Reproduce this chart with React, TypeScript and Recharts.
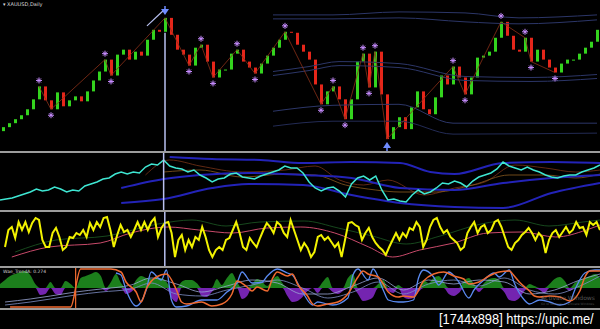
import React from "react";
import { ComposedChart, Line, Bar, Area, XAxis, YAxis, ReferenceLine } from "recharts";

// main panel: daily closes (candle body = previous close -> close)
const closes = [
  24, 28, 32, 36, 42, 52, 65, 51, 42, 59,
  45, 51, 55, 50, 60, 71, 80, 92, 76, 97,
  102, 92, 100, 96, 112, 122, 120, 134, 117, 102,
  97, 86, 104, 107, 90, 74, 82, 82, 98, 102,
  90, 84, 78, 88, 96, 104, 112, 120, 119, 107,
  100, 92, 67, 47, 60, 65, 52, 32, 52, 90,
  98, 64, 100, 57, 12, 24, 34, 22, 44, 60,
  42, 37, 54, 76, 67, 85, 74, 57, 74, 94,
  96, 100, 114, 130, 116, 102, 100, 114, 90, 102,
  92, 84, 79, 88, 92, 92, 98, 104, 110, 122,
];
const firstOpen = 20;
const pivotHighs = [6, 17, 27, 33, 39, 47, 55, 60, 62, 75, 83, 87];
const pivotLows = [8, 18, 31, 35, 42, 53, 57, 61, 64, 77, 88, 92];
const arrowPivots = [27, 64];

// envelope bands on the main panel [bar, value]
const upperA = [[45, 137], [55, 137], [66, 140], [77, 139], [86, 134], [99, 137]];
const upperB = [[45, 133], [55, 133], [66, 134], [77, 130], [86, 128], [99, 132]];
const midA = [[45, 80], [51, 85], [56, 90], [66, 88], [77, 75], [88, 74], [99, 77]];
const midB = [[45, 76], [51, 81], [56, 86], [66, 84], [77, 71], [88, 70], [99, 73]];
const lowA = [[45, 40], [55, 46], [66, 47], [75, 28], [99, 28]];
const lowB = [[45, 25], [55, 30], [66, 30], [75, 17], [99, 18]];

// panel 2
const cyan = [
  10, 11, 12, 14, 16, 18, 21, 19, 20, 23,
  21, 18, 20, 19, 24, 26, 28, 31, 32, 36,
  38, 36, 38, 37, 43, 46, 45, 50, 44, 42,
  41, 38, 40, 35, 32, 28, 31, 32, 36, 37,
  33, 32, 31, 34, 36, 38, 40, 44, 42, 42,
  37, 28, 22, 19, 22, 23, 19, 13, 26, 32,
  34, 30, 34, 20, 10, 11, 9, 8, 15, 20,
  16, 18, 22, 27, 26, 29, 27, 23, 29, 33,
  35, 37, 41, 48, 44, 42, 40, 43, 40, 38,
  35, 33, 32, 34, 35, 35, 38, 40, 42, 45,
];
const p2Upper = [[28, 53], [35, 51], [43, 50], [50, 47], [58, 48], [66, 47], [71, 38], [75, 36], [83, 47], [91, 48], [99, 47]];
const p2Mid = [[20, 22], [27, 31], [33, 35], [41, 37], [50, 35], [58, 32], [66, 22], [75, 20], [83, 27], [91, 32], [99, 35]];
const p2Lower = [[20, 7], [27, 11], [35, 22], [41, 26], [50, 25], [58, 15], [66, 7], [75, 3], [83, 2], [91, 17], [99, 27]];
const p2BrownA = [[24, 35], [28, 50], [33, 44], [40, 38], [47, 40], [52, 44], [56, 30], [60, 25], [64, 30], [70, 15], [75, 22], [80, 28], [85, 45], [90, 42], [95, 38], [99, 40]];
const p2BrownB = [[27, 38], [33, 40], [40, 33], [47, 36], [52, 35], [57, 25], [62, 20], [66, 18], [72, 18], [78, 25], [84, 35], [90, 35], [95, 32], [99, 36]];

// panel 3
const yellow = [
  19, 36, 39, 28, 44, 36, 44, 34, 43, 48,
  46, 26, 19, 19, 33, 38, 29, 16, 19, 29,
  28, 33, 31, 36, 29, 43, 36, 44, 39, 48,
  49, 36, 19, 31, 41, 34, 36, 29, 36, 44,
  36, 44, 36, 44, 48, 29, 38, 43, 44, 33,
  9, 26, 31, 16, 26, 19, 29, 26, 39, 29,
  16, 9, 16, 19, 16, 26, 28, 36, 44, 33,
  19, 16, 28, 23, 19, 28, 36, 43, 39, 33,
  44, 41, 33, 29, 46, 36, 26, 16, 23,
  18, 9, 14, 29, 31, 26, 29, 24, 19, 23,
  9, 26, 43, 44, 41, 39, 26, 33, 38, 29,
  23, 19, 16, 11, 19, 26, 33, 26, 33, 29,
  38, 36, 44, 39, 19, 26, 39, 46, 48, 39,
  33, 36, 29, 26, 23, 16, 19, 33, 39, 44,
  33, 39, 41, 33, 36, 44, 46, 39, 29, 19,
  16, 23, 26, 31, 34, 38, 33, 26, 33, 29,
  13, 26, 33, 36, 29, 34, 39, 33, 36, 44,
  38, 39, 31, 44, 41, 44, 36,
];
const p3Pink = [[2, 9], [13, 19], [28, 23], [37, 33], [48, 39], [57, 36], [67, 33], [77, 38], [87, 39], [97, 33], [107, 19], [114, 9], [122, 16], [132, 23], [142, 33], [152, 34], [162, 29], [171, 36], [175, 41]];
const p3Green = [[3, 14], [15, 26], [30, 30], [45, 42], [55, 46], [65, 40], [75, 44], [88, 45], [98, 38], [108, 30], [118, 22], [128, 30], [140, 42], [150, 46], [160, 40], [170, 44], [175, 46]];

// panel 4
const hist = [
  4, 8, 12, 14, 16, 17, 13, 4, -7, -6,
  6, -6, -7, 7, 4, 0, 10, 12, 14, 16,
  12, -3, 6, 14, 5, -6, -4, 8, 12, 10,
  9, 10, 10, 6, -10, -14, 6, 8, 8, 5,
  -8, -9, -4, 9, 3, 10, 15, 6, -11, -8,
  4, 9, 6, 2, 8, 12, 5, -8, -14, -13,
  -9, -3, 0, -5, 6, 11, -4, -6, -3, 10,
  14, -6, -13, -12, -9, 4, 8, -3, -5, 3,
  -9, -11, -10, -4, 8, 5, 10, 12, 6, -6,
  -8, -5, 7, 10, 4, -4, 5, 9, 10, 8,
  -4, -12, -13, -10, -3, 4, 2, -2, -5, 4,
  9, 11, 7, -3, 5, 8, 10, 12, 14, 10,
];
const p4Orange = [[2, -19], [14, -19], [16, 19], [22, 19], [24, 16], [25, 6], [27, -4], [28, -14], [29, -1], [31, 11], [33, 14], [35, -2], [36, -14], [37, -16], [40, -14], [42, -18], [44, -16], [46, -6], [47, 7], [49, 1], [50, -3], [51, 1], [53, -3], [54, 9], [55, 16], [57, 12], [58, 14], [59, 4], [61, -8], [62, -16], [63, -18], [65, -16], [67, -14], [69, -6], [71, 11], [72, 17], [73, 14], [75, 11], [76, 4], [77, -4], [79, -9], [80, -8], [82, -9], [84, 7], [86, 14], [88, 16], [90, 12], [92, 9], [93, 4], [95, 6], [97, 12], [99, 16], [101, 17], [102, 12], [103, 6], [105, -3], [106, -8], [107, -9], [109, -8], [111, -9], [113, -13], [115, -3], [116, 11], [117, 17], [119, 17]];
const p4Blue = [[23, 15], [24, 13], [25, -2], [27, -18], [29, -2], [30, 16], [32, 8], [33, 18], [34, -12], [35, -19], [37, -18], [40, -12], [43, -12], [45, -4], [47, 5], [48, 16], [50, 5], [52, 6], [53, 12], [55, 19], [57, 15], [58, 13], [60, -4], [62, -17], [63, -14], [66, -17], [69, -10], [70, 13], [71, 19], [73, 8], [74, 19], [76, -2], [77, -12], [79, -14], [80, -14], [82, -12], [83, 10], [84, 18], [86, 11], [87, 3], [89, 16], [91, 6], [93, -10], [94, -2], [96, 8], [98, 15], [99, 11], [101, 18], [102, 5], [104, -12], [105, -16], [107, -12], [109, -14], [111, -17], [113, -14], [114, -2], [116, 15], [118, 18], [119, 18]];
const p4ThinA = [[1, -17], [6, -14], [10, -11], [15, -7], [20, -4], [26, -1], [30, 5], [35, -6], [40, -8], [45, -2], [50, 3], [55, 8], [60, 0], [65, -10], [70, -4], [75, 6], [80, -6], [85, 4], [90, 8], [95, 2], [100, 10], [105, -2], [110, -6], [115, 2], [119, 12]];
const p4ThinB = [[1, -14], [6, -11], [10, -8], [15, -4], [20, -1], [26, 3], [30, 10], [35, 4], [40, -4], [45, 2], [50, 8], [55, 5], [60, -6], [65, -6], [70, 2], [75, 10], [80, -2], [85, 8], [90, 4], [95, 8], [100, 6], [105, -6], [110, -2], [115, 8], [119, 14]];

const sparse = (n: number, knots: number[][]) => {
  const a: (number | null)[] = Array(n).fill(null);
  knots.forEach(([i, v]) => (a[i] = v));
  return a;
};

const N = closes.length;
const bands = { uA: sparse(N, upperA), uB: sparse(N, upperB), mA: sparse(N, midA), mB: sparse(N, midB), lA: sparse(N, lowA), lB: sparse(N, lowB) };
const mainRows = closes.map((c, i) => {
  const o = i === 0 ? firstOpen : closes[i - 1];
  const isHi = pivotHighs.includes(i);
  const isLo = pivotLows.includes(i);
  return {
    i,
    body: [Math.min(o, c), Math.max(o, c)],
    up: c >= o,
    zig: isHi || isLo ? c : null,
    hiMark: isHi ? c + 6 : null,
    loMark: isLo ? c - 6 : null,
    uA: bands.uA[i], uB: bands.uB[i], mA: bands.mA[i], mB: bands.mB[i], lA: bands.lA[i], lB: bands.lB[i],
  };
});

const p2 = { u: sparse(N, p2Upper), m: sparse(N, p2Mid), l: sparse(N, p2Lower), a: sparse(N, p2BrownA), b: sparse(N, p2BrownB) };
const p2Rows = cyan.map((v, i) => ({ i, v, u: p2.u[i], m: p2.m[i], l: p2.l[i], a: p2.a[i], b: p2.b[i] }));

const pink = sparse(yellow.length, p3Pink);
const grn = sparse(yellow.length, p3Green);
const p3Rows = yellow.map((v, i) => ({ i, v, pink: pink[i], grn: grn[i] }));

const H = hist.length;
const orng = sparse(H, p4Orange);
const blu = sparse(H, p4Blue);
const thA = sparse(H, p4ThinA);
const thB = sparse(H, p4ThinB);
const p4Rows = hist.map((v, i) => ({ i, pos: v > 0 ? v : 0, neg: v < 0 ? v : 0, or: orng[i], bl: blu[i], tA: thA[i], tB: thB[i] }));

const M = { top: 0, right: 0, bottom: 0, left: 0 };

const Candle = (props: any) => {
  const { x, y, width, height, payload } = props;
  if (x == null || y == null) return <g />;
  const h = Math.max(1, Math.abs(height));
  const top = height < 0 ? y + height : y;
  return <rect x={x} y={top} width={width} height={h} fill={payload.up ? "#34d41e" : "#e5261a"} />;
};

const PivotDot = (props: any) => {
  const { cx, cy, value, index, payload } = props;
  if (value == null || cy == null || cx == null) return <g key={`p${index}`} />;
  if (arrowPivots.includes(payload.i)) {
    const down = payload.hiMark != null;
    const d = down ? 1 : -1;
    return (
      <g key={`p${index}`}>
        <path d={`M${cx - 4},${cy - 3 * d} L${cx + 4},${cy - 3 * d} L${cx},${cy + 3 * d} Z`} fill="#6f8cff" />
        <line x1={cx} x2={cx} y1={cy - 6 * d} y2={cy - 2 * d} stroke="#6f8cff" strokeWidth={1.5} />
      </g>
    );
  }
  return (
    <g key={`p${index}`} stroke="#c78cff" strokeWidth={1}>
      <line x1={cx - 3} x2={cx + 3} y1={cy} y2={cy} />
      <line x1={cx} x2={cx} y1={cy - 3} y2={cy + 3} />
      <line x1={cx - 2} x2={cx + 2} y1={cy - 2} y2={cy + 2} />
      <line x1={cx - 2} x2={cx + 2} y1={cy + 2} y2={cy - 2} />
    </g>
  );
};

const bandLine = (key: string, color: string, w = 1) => (
  <Line key={key} dataKey={key} type="monotone" connectNulls stroke={color} strokeWidth={w} dot={false} activeDot={false} isAnimationActive={false} />
);

const Sep = ({ top }: { top: number }) => (
  <div style={{ position: "absolute", left: 0, top, width: 600, height: 2, background: "#9c9c9c" }} />
);

export default function App() {
  return (
    <div style={{ position: "relative", width: 600, height: 329, background: "#000", overflow: "hidden", fontFamily: "DejaVu Sans" }}>
      <style>{`body{margin:0;background:#000}`}</style>

      {/* main price panel */}
      <div style={{ position: "absolute", left: 0, top: 0 }}>
        <ComposedChart width={600} height={151} data={mainRows} margin={M}>
          <XAxis dataKey="i" hide />
          <YAxis hide domain={[0, 152]} />
          {bandLine("uA", "#2c3668")}
          {bandLine("uB", "#2c3668")}
          {bandLine("mA", "#2c3668")}
          {bandLine("mB", "#2c3668")}
          {bandLine("lA", "#2c3668")}
          {bandLine("lB", "#232b55")}
          <Bar dataKey="body" barSize={3} shape={Candle} isAnimationActive={false} />
          <Line dataKey="zig" connectNulls stroke="#8a3018" strokeWidth={0.8} dot={false} activeDot={false} isAnimationActive={false} />
          <ReferenceLine segment={[{ x: 27, y: 119 }, { x: 27, y: 0 }]} stroke="#b8c0f0" strokeWidth={1.5} />
          <ReferenceLine segment={[{ x: 24, y: 126 }, { x: 27, y: 143 }]} stroke="#b8c0f0" strokeWidth={1.2} />
          <Line dataKey="hiMark" stroke="none" dot={PivotDot} activeDot={false} isAnimationActive={false} />
          <Line dataKey="loMark" stroke="none" dot={PivotDot} activeDot={false} isAnimationActive={false} />
        </ComposedChart>
        <svg style={{ position: "absolute", left: 0, top: 0 }} width={60} height={10}>
          <text x={3} y={6} fontSize={5} fill="#dddddd">▾ XAUUSD,Daily</text>
        </svg>
      </div>
      <Sep top={151} />

      {/* panel 2 */}
      <div style={{ position: "absolute", left: 0, top: 153 }}>
        <ComposedChart width={600} height={57} data={p2Rows} margin={M}>
          <XAxis dataKey="i" hide />
          <YAxis hide domain={[0, 57]} />
          {bandLine("a", "#7a3418", 0.8)}
          {bandLine("b", "#8a5a20", 0.8)}
          {bandLine("u", "#2323b8", 2)}
          {bandLine("m", "#2323b8", 2)}
          {bandLine("l", "#2323b8", 2)}
          <Line dataKey="v" type="linear" stroke="#3ee6d2" strokeWidth={1.5} dot={false} activeDot={false} isAnimationActive={false} />
          <ReferenceLine x={27} stroke="#b8c0f0" strokeWidth={1.5} />
        </ComposedChart>
      </div>
      <Sep top={210} />

      {/* panel 3 */}
      <div style={{ position: "absolute", left: 0, top: 212 }}>
        <ComposedChart width={600} height={54} data={p3Rows} margin={{ top: 0, right: 0, bottom: 0, left: 5 }}>
          <XAxis dataKey="i" hide />
          <YAxis hide domain={[0, 54]} />
          {bandLine("grn", "#1d5a25", 0.8)}
          {bandLine("pink", "#c84a6a", 1)}
          <Line dataKey="v" type="linear" stroke="#f2f200" strokeWidth={2} dot={false} activeDot={false} isAnimationActive={false} />
          <ReferenceLine x={47} stroke="#b8c0f0" strokeWidth={1.5} />
        </ComposedChart>
      </div>
      <Sep top={266} />

      {/* panel 4 */}
      <div style={{ position: "absolute", left: 0, top: 268 }}>
        <ComposedChart width={600} height={40} data={p4Rows} margin={M}>
          <XAxis dataKey="i" hide />
          <YAxis hide domain={[-20, 20]} />
          <Area dataKey="pos" type="monotone" fill="#1c7f1c" fillOpacity={1} stroke="none" isAnimationActive={false} />
          <Area dataKey="neg" type="monotone" fill="#7424b0" fillOpacity={1} stroke="none" isAnimationActive={false} />
          {bandLine("tA", "#7f8fc8", 0.8)}
          {bandLine("tB", "#9aa6d6", 0.8)}
          <ReferenceLine x={15} stroke="#f06a30" strokeWidth={1.2} />
          {bandLine("bl", "#5a8af0", 1.3)}
          {bandLine("or", "#f06a30", 1.5)}
        </ComposedChart>
        <svg style={{ position: "absolute", left: 0, top: 0 }} width={60} height={8}>
          <text x={3} y={5} fontSize={4.5} fill="#cccccc">Wae_TrendA: 0.274</text>
        </svg>
      </div>
      <Sep top={308} />

      <svg style={{ position: "absolute", left: 0, top: 0 }} width={600} height={329}>
        <text x={541} y={300} fontSize={6} fill="#7a7a7a" opacity={0.7} textLength={54} lengthAdjust="spacingAndGlyphs">Activate Windows</text>
        <text x={541} y={305} fontSize={3} fill="#6a6a6a" opacity={0.7} textLength={54} lengthAdjust="spacingAndGlyphs">Go to Settings to activate Windows.</text>
        <g transform="translate(439,324) scale(0.86,1)">
          <text x={0} y={0} fontSize={15} fontFamily="Liberation Sans" fill="#ffffff">[1744x898] https://upic.me/</text>
        </g>
      </svg>
    </div>
  );
}
